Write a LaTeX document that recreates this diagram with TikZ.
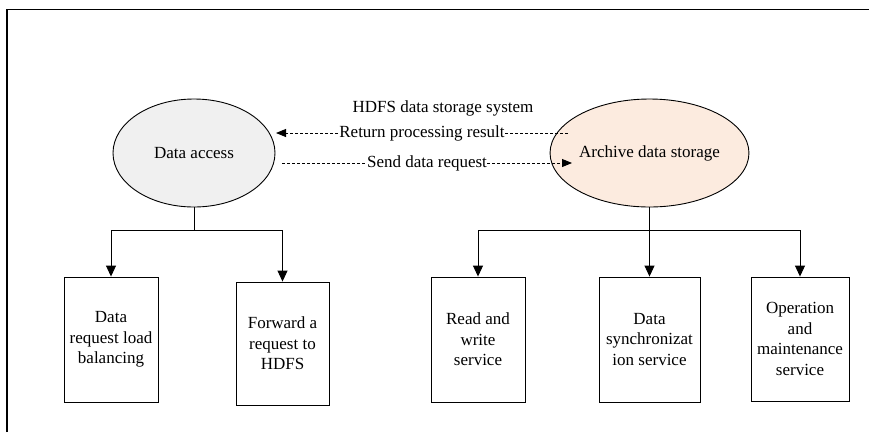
\documentclass[tikz,border=0pt]{standalone}
\usepackage{fontspec}
\setmainfont{Liberation Serif}
\usetikzlibrary{arrows.meta,shapes.geometric}
\definecolor{accfill}{HTML}{F0F0F0}
\definecolor{arcfill}{HTML}{FCEBDF}
\begin{document}
\begin{tikzpicture}[x=1pt,y=-1pt, line width=0.9pt,
  every node/.style={font=\fontsize{17}{20.5}\selectfont},
  oval/.style={draw, ellipse, minimum width=162pt, minimum height=108pt, inner sep=0pt},
  leaf/.style={draw, rectangle, align=center, inner sep=0pt, minimum height=125pt},
  tip/.style={-{Triangle[width=10pt,length=11pt]}},
  dashline/.style={dash pattern=on 3pt off 2pt},
  lbl/.style={fill=white, inner sep=0.5pt}]
\useasboundingbox (0,0) rectangle (869,432);
\draw[line width=1.2pt] (7,432) -- (7,9.5) -- (869,9.5);

\node[oval, fill=accfill] (acc) at (194,153) {Data access};
\node[oval, fill=arcfill] (arc) at (649.5,153) {Archive data storage};
\node (title) at (443,108) {HDFS data storage system};

\node[leaf, minimum width=94pt] (b1) at (111,339.5) {Data\\request load\\balancing};
\node[leaf, minimum width=93pt, minimum height=123pt] (b2) at (282.5,343.5) {Forward a\\request to\\HDFS};
\node[leaf, minimum width=94pt] (b3) at (478,339.5) {Read and\\write\\service};
\node[leaf, minimum width=101pt] (b4) at (649.5,339.5) {Data\\synchronizat\\ion service};
\node[leaf, minimum width=98pt, minimum height=124pt] (b5) at (800,339) {Operation\\and\\maintenance\\service};

\coordinate (rs) at (568,133);
\coordinate (re) at (276,133);
\coordinate (ss) at (282,163);
\coordinate (se) at (572,163);
\draw[-{Triangle[width=8pt,length=10pt]}, dashline] (rs) -- node[lbl, solid] {Return processing result} (re);
\draw[-{Triangle[width=8pt,length=10pt]}, dashline] (ss) -- node[lbl, solid] {Send data request} (se);

\coordinate (j1) at (194,230);
\coordinate (j2) at (649.5,230);
\draw (acc.south) -- (j1);
\draw[tip] (j1) -| (b1.north);
\draw[tip] (j1) -| (b2.north);
\draw (arc.south) -- (j2);
\draw[tip] (j2) -| (b3.north);
\draw[tip] (j2) -- (b4.north);
\draw[tip] (j2) -| (b5.north);
\end{tikzpicture}
\end{document}
